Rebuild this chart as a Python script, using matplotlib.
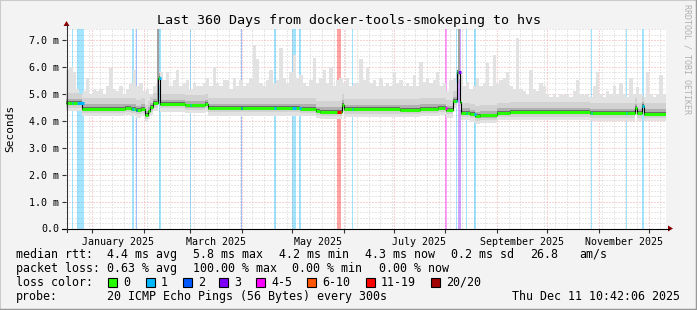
import datetime as dt

import numpy as np
import matplotlib
matplotlib.use('Agg')
import matplotlib.pyplot as plt
from matplotlib.patches import Rectangle, Polygon
from matplotlib.lines import Line2D

plt.rcParams['lines.scale_dashes'] = False

W, H = 697, 310
MONO = 'DejaVu Sans Mono'

end = dt.datetime(2025, 12, 11, 10, 42, 6)
start = end - dt.timedelta(days=360)

# median rtt as steps: day offset from start -> ms
med_day = [0, 9.6, 35.4, 39.0, 42.0, 45.0, 47.4, 49.2, 50.4, 52.2, 54.9, 56.1,
           71.4, 83.4, 85.2, 140.4, 150.0, 152.4, 165.6, 166.8, 200.4, 212.4,
           223.2, 228.0, 232.2, 234.3, 236.1, 237.0, 242.4, 245.4, 248.4, 258.6,
           266.4, 314.4, 341.4, 342.6, 345.6, 346.8]
med_ms = [4.65, 4.45, 4.48, 4.45, 4.40, 4.45, 4.22, 4.35, 4.50, 4.65, 5.60, 4.62,
          4.57, 4.62, 4.47, 4.45, 4.37, 4.34, 4.60, 4.43, 4.42, 4.45,
          4.48, 4.40, 4.74, 5.83, 4.70, 4.30, 4.25, 4.17, 4.20, 4.30,
          4.32, 4.28, 4.48, 4.28, 4.55, 4.27]

# top of the smoke, one value every 2 days
smoke_top = [
    5.9, 6.0, 5.8, 5.2, 5.0, 5.1, 5.6, 5.0, 5.2, 5.1,
    5.2, 5.0, 5.3, 5.95, 5.2, 5.1, 5.3, 5.0, 5.2, 5.4,
    5.9, 5.3, 5.4, 5.1, 5.2, 5.0, 5.3, 5.4, 5.8, 5.5,
    5.8, 5.3, 5.5, 5.9, 5.3, 5.4, 5.5, 5.2, 5.4, 5.3,
    5.3, 5.4, 5.6, 5.3, 6.0, 5.4, 5.3, 5.5, 5.5, 5.2,
    5.6, 5.3, 5.5, 5.3, 5.4, 5.6, 6.8, 6.3, 5.4, 5.3,
    5.5, 5.9, 5.4, 5.5, 6.7, 5.6, 5.4, 5.8, 6.45, 5.6,
    5.7, 5.4, 5.3, 5.5, 6.35, 5.4, 5.6, 5.9, 5.4, 6.0,
    5.3, 5.5, 5.6, 5.4, 5.6, 5.3, 5.4, 5.4, 6.3, 5.5,
    6.0, 5.4, 5.5, 5.3, 5.6, 5.3, 5.4, 5.3, 5.8, 5.4,
    5.5, 5.3, 5.4, 5.3, 5.7, 5.3, 6.2, 5.45, 5.6, 5.4,
    5.5, 5.8, 5.3, 5.4, 5.1, 5.5, 5.6, 5.4, 5.7, 5.3,
    5.45, 5.2, 5.3, 5.6, 5.3, 5.4, 6.15, 5.3, 6.45, 5.4,
    5.5, 5.6, 5.8, 5.3, 5.2, 7.08, 5.2, 5.1, 5.0, 5.9,
    5.2, 5.1, 5.4, 5.3, 5.0, 4.9, 5.0, 4.9, 5.0, 4.95,
    5.0, 4.9, 5.1, 5.5, 5.0, 4.95, 5.0, 4.9, 5.3, 5.8,
    5.0, 4.9, 5.1, 5.0, 5.3, 5.0, 5.4, 5.0, 4.9, 5.6,
    5.0, 5.27, 5.0, 4.9, 5.8, 5.0, 4.9, 5.0, 5.7, 5.0,
]
# two bursts that went off the top of the graph
burst_day = [54.6, 235.0]
burst_top = [7.43, 7.43]

# packet loss periods: from day, to day, loss class
loss_from = [3.6, 6.6, 39.6, 42.0, 55.8, 74.2, 104.8, 124.8, 135.6, 139.8,
             162.6, 171.6, 227.4, 234.0, 235.2, 240.0, 244.8, 315.0, 336.0, 345.6]
loss_to = [4.4, 10.8, 40.8, 42.6, 57.0, 74.8, 105.4, 126.0, 138.0, 141.0,
           165.0, 172.2, 228.6, 234.6, 237.0, 240.6, 246.0, 315.6, 336.6, 346.8]
loss_cls = [1, 1, 1, 2, 1, 1, 2, 1, 1, 1, 6, 1, 4, 1, 3, 1, 1, 1, 1, 1]

loss_labels = ['0', '1', '2', '3', '4-5', '6-10', '11-19', '20/20']
loss_colors = ['#26ff00', '#00b8ff', '#0059ff', '#7e00ff', '#ff00ff',
               '#ff5500', '#ff0000', '#a10000']

y_ticks = [0, 1, 2, 3, 4, 5, 6, 7]
y_labels = ['0.0', '1.0 m', '2.0 m', '3.0 m', '4.0 m', '5.0 m', '6.0 m', '7.0 m']

rtt_stats = ['4.4 ms avg', '5.8 ms max', '4.2 ms min', '4.3 ms now', '0.2 ms sd', '26.8', 'am/s']
loss_stats = ['0.63 % avg', '100.00 % max', '0.00 % min', '0.00 % now']


def day(t):
    return (t - start).total_seconds() / 86400.0


def med_at(d):
    i = np.searchsorted(med_day, d, side='right') - 1
    return med_ms[max(i, 0)]


def fx(x):
    return x / W


def fy(y):
    return 1 - y / H


fig = plt.figure(figsize=(W / 100, H / 100), dpi=100, facecolor='#f3f3f3')
ax = fig.add_axes([fx(66), fy(228.5), 600 / W, 200 / H])
ax.set_facecolor('white')
ax.set_xlim(0, 360)
ax.set_ylim(0, 7.43)

# grid (dotted, 1px on / 2px off)
dots = (0, (0.72, 1.44))
minor_c, major_c = '#d0d0d0', '#f5a8a8'
months = [dt.datetime(2025, m, 1) for m in range(1, 13)]
month_days = [day(m) for m in months]
d = dt.datetime(2024, 12, 23)
while d < end:
    if d.day != 1:
        ax.axvline(day(d), color=minor_c, lw=0.72, ls=dots, zorder=0)
    d += dt.timedelta(days=7)
for md in month_days:
    ax.axvline(md, color=major_c, lw=0.72, ls=dots, zorder=0.5)
for v in np.arange(0.2, 7.43, 0.2):
    if abs(v - round(v)) > 0.01:
        ax.axhline(v, color=minor_c, lw=0.72, ls=dots, zorder=0)
for v in y_ticks[1:]:
    ax.axhline(v, color=major_c, lw=0.72, ls=dots, zorder=0.5)

# loss background
for a, b, c in zip(loss_from, loss_to, loss_cls):
    ax.axvspan(a, b, color=loss_colors[c], alpha=0.36, lw=0, zorder=1)

# smoke
edges = sorted(set(list(np.arange(0, 360, 2.0)) + med_day))
edges.append(360.0)
m = np.array([med_at(e) for e in edges])
top = np.array([smoke_top[min(int(e // 2), 179)] for e in edges])
ax.fill_between(edges, m - 0.28, top, step='post', color='#e2e2e2', lw=0, zorder=2)
ax.fill_between(edges, m - 0.16, np.minimum(top, m + 0.38), step='post', color='#d2d2d2', lw=0, zorder=2)
ax.fill_between(edges, m - 0.08, np.minimum(top, m + 0.16), step='post', color='#b0b0b0', lw=0, zorder=2)
ax.fill_between(edges, m - 0.02, m + 0.07, step='post', color='#6a6a6a', lw=0, zorder=2)
for bd, bt in zip(burst_day, burst_top):
    ax.bar(bd, bt - med_at(bd), bottom=med_at(bd), width=1.2, align='edge',
           color='#a0a0a0', lw=0, zorder=2.5)

# median line
md_x = med_day + [360]
md_y = med_ms + [med_ms[-1]]
ax.step(md_x, md_y, where='post', color='black', lw=0.8, zorder=3)
ax.hlines(med_ms, med_day, med_day[1:] + [360], color=loss_colors[0], lw=2.2, zorder=4)
for a, b, c in zip(loss_from, loss_to, loss_cls):
    ax.hlines(med_at(a), a, b, color=loss_colors[c], lw=2.2, zorder=4)

# axes
for s in ax.spines.values():
    s.set_visible(False)
ax.set_yticks(y_ticks, labels=y_labels)
ax.tick_params(axis='y', length=3, width=0.8, pad=2, labelsize=7.2, color='#333333')
ax.set_xticks(month_days, labels=[''] * len(month_days))
mids = [day(months[i]) + (day(months[i + 1]) - day(months[i])) / 2 for i in range(0, 11, 2)]
mid_labels = [months[i].strftime('%B %Y') for i in range(0, 11, 2)]
ax.set_xticks(mids, labels=mid_labels, minor=True)
ax.tick_params(axis='x', which='major', length=3, width=0.8, color='#333333')
ax.tick_params(axis='x', which='minor', length=0, pad=6, labelsize=7.2)
for lab in ax.get_xticklabels(minor=True) + ax.get_yticklabels():
    lab.set_family(MONO)

# axis lines with arrows
fig.add_artist(Line2D([fx(62), fx(669)], [fy(228.5), fy(228.5)], color='black', lw=0.8))
fig.add_artist(Line2D([fx(66.5), fx(66.5)], [fy(232), fy(25)], color='#333333', lw=0.8))
fig.add_artist(Polygon([(fx(668), fy(225.5)), (fx(668), fy(231.5)), (fx(673), fy(228.5))],
                       closed=True, color='#8b0000', lw=0))
fig.add_artist(Polygon([(fx(63.5), fy(26)), (fx(69.5), fy(26)), (fx(66.5), fy(21))],
                       closed=True, color='#8b0000', lw=0))

# texts
fig.text(fx(349), fy(24), 'Last 360 Days from docker-tools-smokeping to hvs',
         ha='center', va='baseline', fontsize=9.6, family=MONO)
fig.text(fx(10), fy(128), 'Seconds', rotation=90, ha='center', va='center',
         fontsize=8, family=MONO)
fig.text(fx(687), fy(4), 'RRDTOOL / TOBI OETIKER', rotation=-90, ha='center', va='top',
         fontsize=6, family=MONO, color='#b0b0b0')

LS = 8.4
base = [257.7, 271.7, 285.7, 299.7]
fig.text(fx(16), fy(base[0]), 'median rtt:', fontsize=LS, family=MONO, va='baseline')
for txt, x in zip(rtt_stats, [107, 193, 279, 365, 451, 530, 579]):
    fig.text(fx(x), fy(base[0]), txt, fontsize=LS, family=MONO, va='baseline')
fig.text(fx(16), fy(base[1]), 'packet loss:', fontsize=LS, family=MONO, va='baseline')
for txt, x in zip(loss_stats, [107, 193, 292, 379]):
    fig.text(fx(x), fy(base[1]), txt, fontsize=LS, family=MONO, va='baseline')
fig.text(fx(16), fy(base[2]), 'loss color:', fontsize=LS, family=MONO, va='baseline')
box_x = [108, 146, 183, 219, 256, 307, 366, 431]
for lab, col, x in zip(loss_labels, loss_colors, box_x):
    fig.add_artist(Rectangle((fx(x), fy(286.5)), 9 / W, 9 / H, facecolor=col,
                             edgecolor='black', lw=0.8))
    fig.text(fx(x + 15), fy(base[2]), lab, fontsize=LS, family=MONO, va='baseline')
fig.text(fx(16), fy(base[3]), 'probe:', fontsize=LS, family=MONO, va='baseline')
fig.text(fx(107), fy(base[3]), '20 ICMP Echo Pings (56 Bytes) every 300s',
         fontsize=LS, family=MONO, va='baseline')
fig.text(fx(680), fy(base[3]), end.strftime('%a %b %d %H:%M:%S %Y'),
         fontsize=LS, family=MONO, va='baseline', ha='right')

# 3d frame
fig.add_artist(Line2D([0, 0], [0, 1], color='#cbcbcb', lw=1.5))
fig.add_artist(Line2D([0, 1], [1, 1], color='#cbcbcb', lw=1.5))
fig.add_artist(Line2D([1, 1], [0, 1], color='#999999', lw=2.5))
fig.add_artist(Line2D([0, 1], [0, 0], color='#999999', lw=2.5))

fig.savefig('out.png', dpi=100, facecolor=fig.get_facecolor())
